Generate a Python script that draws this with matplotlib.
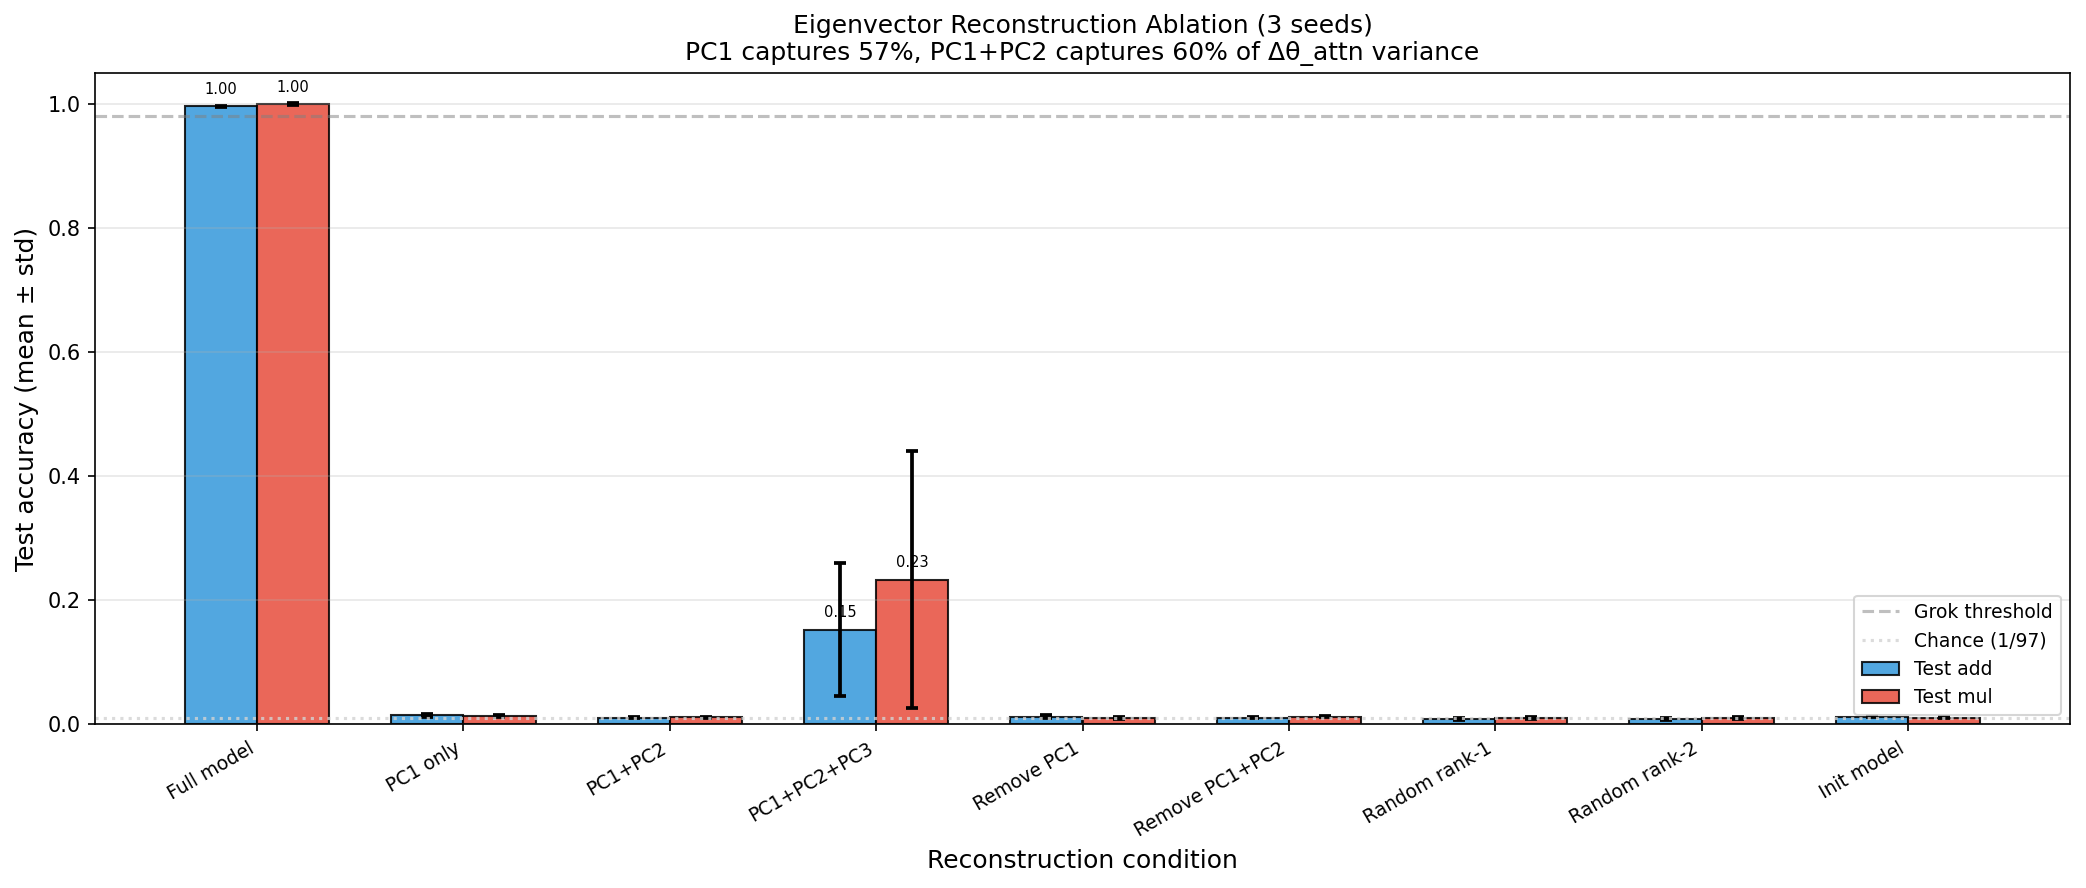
import matplotlib
matplotlib.use("Agg")
import matplotlib.pyplot as plt
import numpy as np

conditions = ["Full model", "PC1 only", "PC1+PC2", "PC1+PC2+PC3", "Remove PC1",
              "Remove PC1+PC2", "Random rank-1", "Random rank-2", "Init model"]
add_mean = [0.996, 0.014, 0.010, 0.152, 0.012, 0.010, 0.008, 0.008, 0.012]
add_std = [0.001, 0.002, 0.001, 0.107, 0.003, 0.001, 0.002, 0.002, 0.001]
mul_mean = [1.000, 0.013, 0.011, 0.233, 0.010, 0.012, 0.010, 0.010, 0.010]
mul_std = [0.001, 0.002, 0.001, 0.207, 0.002, 0.001, 0.002, 0.002, 0.001]

grok_threshold = 0.98
chance = 1 / 97

fig, ax = plt.subplots(figsize=(2086 / 150, 888 / 150), dpi=150)
x = np.arange(len(conditions))
w = 0.35
ax.bar(x - w / 2, add_mean, w, yerr=add_std, capsize=3, color="#3498db", alpha=0.85,
       edgecolor="black", linewidth=1, label="Test add",
       error_kw=dict(elinewidth=1.8, capthick=1.8, ecolor="black"))
ax.bar(x + w / 2, mul_mean, w, yerr=mul_std, capsize=3, color="#e74c3c", alpha=0.85,
       edgecolor="black", linewidth=1, label="Test mul",
       error_kw=dict(elinewidth=1.8, capthick=1.8, ecolor="black"))

for i in range(len(conditions)):
    if add_mean[i] > 0.1:
        ax.text(x[i] - w / 2, add_mean[i] + 0.015, f"{add_mean[i]:.2f}", ha="center",
                va="bottom", fontsize=7)
    if mul_mean[i] > 0.1:
        ax.text(x[i] + w / 2, mul_mean[i] + 0.015, f"{mul_mean[i]:.2f}", ha="center",
                va="bottom", fontsize=7)

ax.axhline(grok_threshold, color="gray", linestyle="--", alpha=0.5, label="Grok threshold")
ax.axhline(chance, color="lightgray", linestyle=":", alpha=0.8, label="Chance (1/97)")

ax.set_xticks(x)
ax.set_xticklabels(conditions, rotation=30, ha="right", fontsize=9)
ax.set_ylim(0, 1.05)
ax.set_xlabel("Reconstruction condition", fontsize=12)
ax.set_ylabel("Test accuracy (mean ± std)", fontsize=12)
ax.set_title("Eigenvector Reconstruction Ablation (3 seeds)\n"
             "PC1 captures 57%, PC1+PC2 captures 60% of Δθ_attn variance", fontsize=12)
ax.legend(loc="lower right", fontsize=9)
ax.grid(axis="y", alpha=0.3)

fig.subplots_adjust(left=95 / 2086, right=2070 / 2086, top=1 - 73 / 888, bottom=1 - 724 / 888)
fig.savefig("out.png", dpi=150)
